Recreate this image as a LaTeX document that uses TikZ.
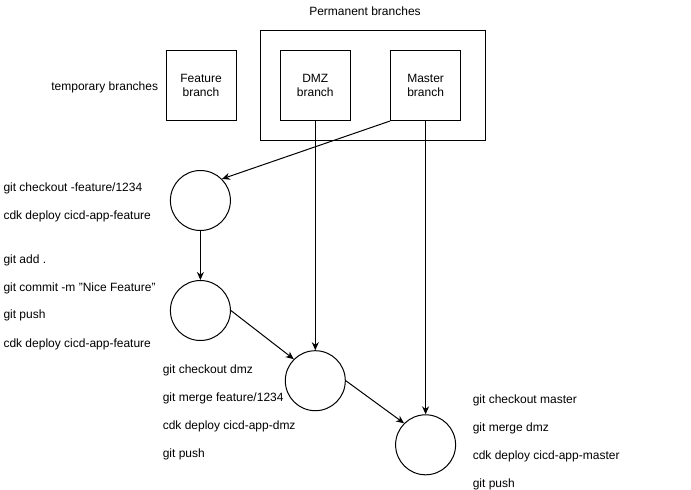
\documentclass[tikz,border=0pt]{standalone}
\usepackage{fontspec}
\setmainfont{Liberation Sans}
\usetikzlibrary{arrows.meta,positioning,shapes}

\begin{document}
\begin{tikzpicture}[x = 1pt, y = -1pt, line width = 1pt, font = \fontsize{12}{14}\selectfont,
  branchbox/.style = {draw, minimum width = 70pt, minimum height = 70pt, align = center, inner sep = 0pt},
  commit/.style = {draw, circle, minimum size = 60pt, inner sep = 0pt},
  cmd/.style = {anchor = base west, inner sep = 0pt},
  flow/.style = {-{Stealth[length = 8pt, width = 7pt]}}]
\useasboundingbox (0,0) rectangle (691,490);
% branches
\node[draw, minimum width = 225pt, minimum height = 110pt, inner sep = 0pt] (perm) at (373,85.5) {};
\node[anchor = base, inner sep = 0pt] (permlabel) at (365,15.5) {Permanent branches};
\node[anchor = base, inner sep = 0pt] (templabel) at (104.7,90.5) {temporary branches};
\node[branchbox] (feature) at (201,85.5) {Feature\\branch};
\node[branchbox] (dmz) at (315.3,85.5) {DMZ\\branch};
\node[branchbox] (master) at (425.6,85.5) {Master\\branch};
% commits
\node[commit] (checkout) at (200.4,200.5) {};
\node[commit] (push) at (200.4,310.5) {};
\node[commit] (mergedmz) at (315.3,380.7) {};
\node[commit] (mergemaster) at (425.6,444.8) {};
% commands
\node[cmd] (featcmda) at (3,191.8) {git checkout -feature/1234};
\node[cmd] (featcmdb) at (3,219.5) {cdk deploy cicd-app-feature};
\node[cmd] (pushcmda) at (3,263.8) {git add .};
\node[cmd] (pushcmdb) at (3,291.2) {git commit -m \symbol{34}Nice Feature\symbol{34}};
\node[cmd] (pushcmdc) at (3,318.8) {git push};
\node[cmd] (pushcmdd) at (3,347.2) {cdk deploy cicd-app-feature};
\node[cmd] (dmzcmda) at (162.3,373.8) {git checkout dmz};
\node[cmd] (dmzcmdb) at (162.3,401.8) {git merge feature/1234};
\node[cmd] (dmzcmdc) at (162.3,429.5) {cdk deploy cicd-app-dmz};
\node[cmd] (dmzcmdd) at (162.3,457.2) {git push};
\node[cmd] (mastercmda) at (472.3,403.5) {git checkout master};
\node[cmd] (mastercmdb) at (472.3,431.8) {git merge dmz};
\node[cmd] (mastercmdc) at (472.3,459.5) {cdk deploy cicd-app-master};
\node[cmd] (mastercmdd) at (472.3,487.8) {git push};
% flow
\draw[flow] (master.south west) -- (checkout.north east);
\draw[flow] (checkout) -- (push);
\draw[flow] (push.east) -- (mergedmz.north west);
\draw[flow] (dmz) -- (mergedmz);
\draw[flow] (mergedmz.east) -- (mergemaster.north west);
\draw[flow] (master) -- (mergemaster);
\end{tikzpicture}
\end{document}
